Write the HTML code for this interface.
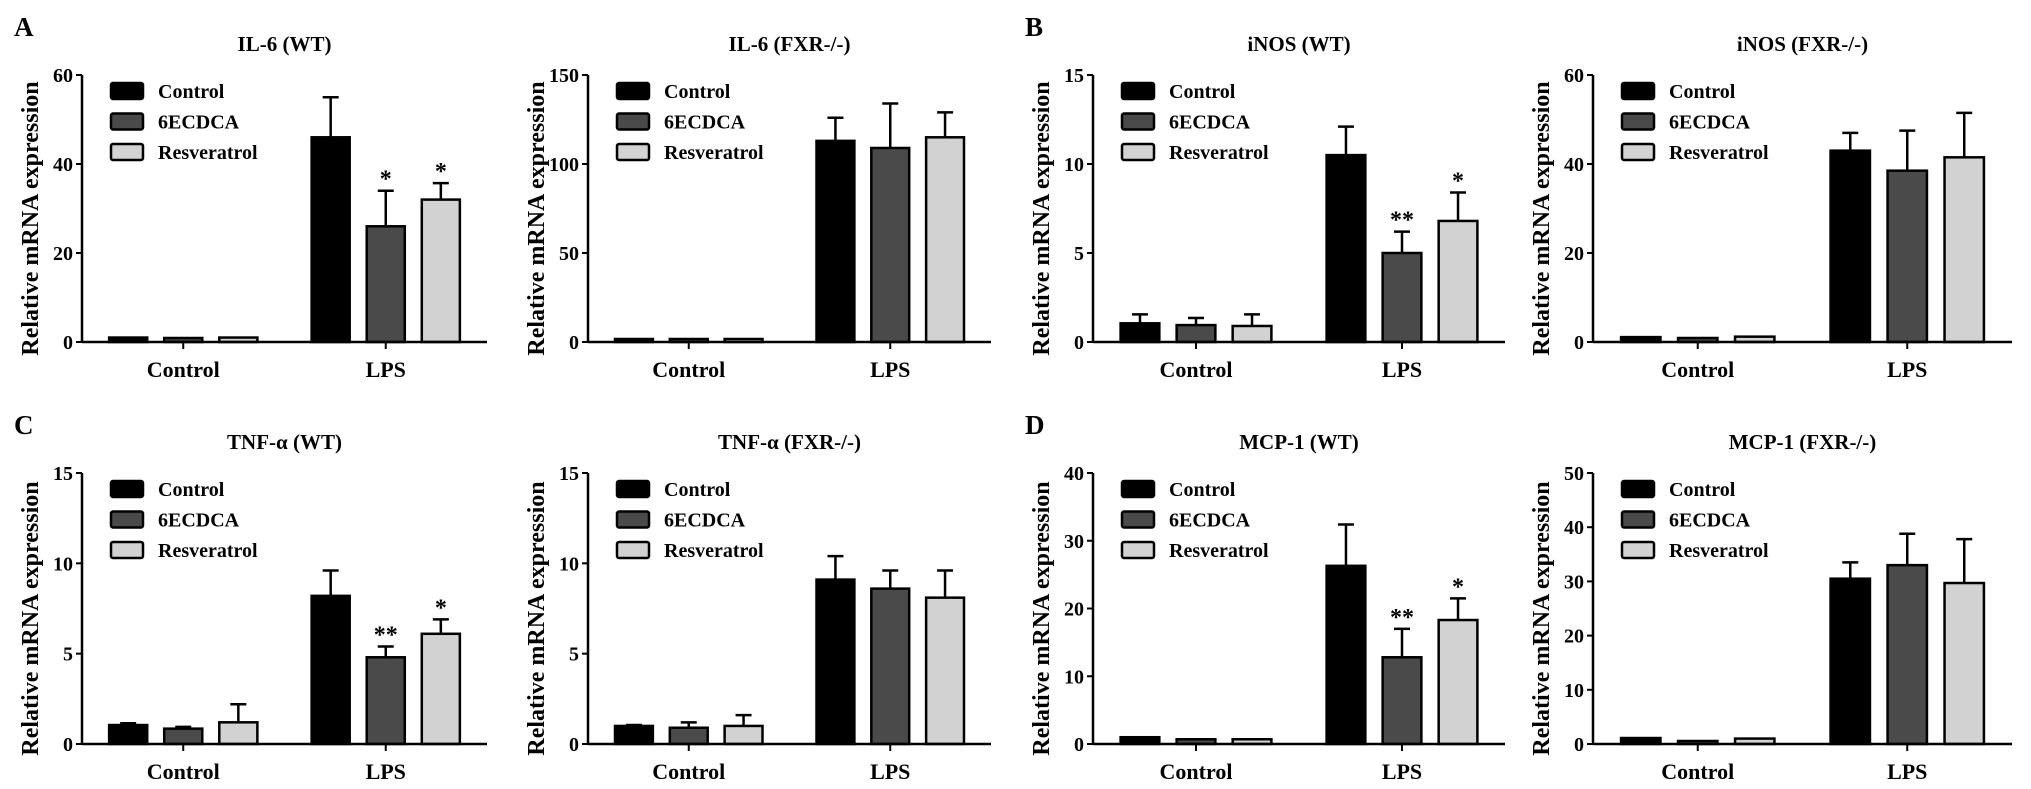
<!DOCTYPE html>
<html><head><meta charset="utf-8">
<style>
html,body{margin:0;padding:0;background:#fff;}
svg{display:block;font-family:"Liberation Serif","Times New Roman",serif;font-weight:bold;}
</style></head>
<body>
<svg id="fig" width="2031" height="789" viewBox="0 0 2031 789" xmlns="http://www.w3.org/2000/svg"></svg>
<script>
const categories = ["Control","LPS"];
const seriesNames = ["Control","6ECDCA","Resveratrol"];
const titles = ["IL-6 (WT)","IL-6 (FXR-/-)","iNOS (WT)","iNOS (FXR-/-)","TNF-α (WT)","TNF-α (FXR-/-)","MCP-1 (WT)","MCP-1 (FXR-/-)"];
const yMax = [60,150,15,60,15,15,40,50];
const yStep = [20,50,5,20,5,5,10,10];
// values per panel: [ctrl group x3, LPS group x3]
const ilWT = [1.0,0.9,1.0, 46,26,32];
const ilWTerr = [0,0,0, 55,34,35.7];
const ilKO = [1.0,1.0,1.5, 113,109,115];
const ilKOerr = [0,0,0, 126,134,129];
const inosWT = [1.05,0.95,0.9, 10.5,5.0,6.8];
const inosWTerr = [1.55,1.35,1.55, 12.1,6.2,8.4];
const inosKO = [1.1,0.9,1.2, 43,38.5,41.5];
const inosKOerr = [0,0,0, 47,47.5,51.5];
const tnfWT = [1.05,0.85,1.2, 8.2,4.8,6.1];
const tnfWTerr = [1.15,0.95,2.2, 9.6,5.4,6.9];
const tnfKO = [1.0,0.9,1.0, 9.1,8.6,8.1];
const tnfKOerr = [1.05,1.2,1.6, 10.4,9.6,9.6];
const mcpWT = [1.0,0.7,0.7, 26.3,12.8,18.3];
const mcpWTerr = [0,0,0, 32.4,17,21.5];
const mcpKO = [1.1,0.5,1.0, 30.5,33,29.7];
const mcpKOerr = [0,0,0, 33.5,38.8,37.8];
const stars = [["","","","","*","*"],[],["","","","","**","*"],[],["","","","","**","*"],[],["","","","","**","*"],[]];
const values = [ilWT,ilKO,inosWT,inosKO,tnfWT,tnfKO,mcpWT,mcpKO];
const errs = [ilWTerr,ilKOerr,inosWTerr,inosKOerr,tnfWTerr,tnfKOerr,mcpWTerr,mcpKOerr];
const panelLetters = ["A","B","C","D"];

const svg = document.getElementById('fig');
const NS = "http://www.w3.org/2000/svg";
const fills = ["#000000","#4a4a4a","#d2d2d2"];
const axX = [82,588,1093,1593];
const axW = [405,403,412,419];
const rowTop = [75,473];
const rowZero = [342,744];

function el(tag, attrs, parent){
  const e = document.createElementNS(NS, tag);
  for (const k in attrs) e.setAttribute(k, attrs[k]);
  (parent||svg).appendChild(e);
  return e;
}
function txt(s, attrs, parent){ const t = el('text', attrs, parent); t.textContent = s; return t; }

for (let p=0;p<8;p++){
  const row = Math.floor(p/4), col = p%4;
  const x0 = axX[col], W = axW[col], top = rowTop[row], zero = rowZero[row];
  const g = el('g', {});
  
  
  const yS = v => zero - (v / yMax[p]) * (zero - top);
  const grpC = i => x0 + W * (i === 0 ? 0.25 : 0.75);
  const bw = W * 0.094, sp = W * 0.136;

  if (col % 2 === 0){
    const L = txt(panelLetters[row*2 + col/2], {x: x0 - 68, y: top - 39, 'font-size': 27}, g);
    
    
  }
  const T = txt(titles[p], {x: x0 + W*0.5, y: top - 24, 'font-size': 21, 'text-anchor': 'middle'}, g);
  
  

  const yt = txt("Relative mRNA expression", {x: 0, y: 0, 'font-size': 24, 'text-anchor': 'middle', transform: `translate(${x0-44},${(top+zero)/2+10}) rotate(-90)`}, g);
  
  

  // bars
  for (let i=0;i<6;i++){
    const gi = Math.floor(i/3), si = i%3;
    const cx = grpC(gi) + (si-1)*sp;
    const v = values[p][i], e = errs[p][i];
    if (e > v){
      const ln = el('line', {x1: cx, x2: cx, y1: yS(v), y2: yS(e), stroke: '#000', 'stroke-width': 2.5}, g);
      
      
      const cap = el('line', {x1: cx-8, x2: cx+8, y1: yS(e), y2: yS(e), stroke: '#000', 'stroke-width': 2.5}, g);
      
      
    }
    const h = Math.max(zero - yS(v), 3);
    const r = el('rect', {x: cx - bw/2, y: zero - h, width: bw, height: h, fill: fills[si], stroke: '#000', 'stroke-width': 2.5}, g);
    
    
    const st = (stars[p]||[])[i];
    if (st){
      const top2 = yS(Math.max(e, v));
      const s = txt(st, {x: cx, y: top2 - 4, 'font-size': 24, 'text-anchor': 'middle'}, g);
      
      
    }
  }

  // axes
  const ya = el('line', {x1: x0, x2: x0, y1: top, y2: zero, stroke: '#000', 'stroke-width': 2.5}, g);
  
  
  const xa = el('line', {x1: x0, x2: x0 + W, y1: zero, y2: zero, stroke: '#000', 'stroke-width': 2.5}, g);
  
  
  for (let v=0; v<=yMax[p]+1e-9; v+=yStep[p]){
    const tk = el('line', {x1: x0-6, x2: x0, y1: yS(v), y2: yS(v), stroke: '#000', 'stroke-width': 2}, g);
    
    
    const tl = txt(String(v), {x: x0 - 9, y: yS(v) + 7, 'font-size': 20, 'text-anchor': 'end'}, g);
    
    
  }
  for (let i=0;i<2;i++){
    const tk = el('line', {x1: grpC(i), x2: grpC(i), y1: zero, y2: zero+7, stroke: '#000', 'stroke-width': 2}, g);
    
    
    const tl = txt(categories[i], {x: grpC(i), y: zero + 35, 'font-size': 22, 'text-anchor': 'middle'}, g);
    
    
  }

  // legend
  for (let si=0; si<3; si++){
    const ly = top + 16 + si*30.5;
    const sw = el('rect', {x: x0 + 29, y: ly - 8, width: 32, height: 16, rx: 2, fill: fills[si], stroke: '#000', 'stroke-width': 2.5}, g);
    
    
    const lt = txt(seriesNames[si], {x: x0 + 76, y: ly + 7, 'font-size': 20}, g);
    
    
  }
}
</script>
</body></html>
